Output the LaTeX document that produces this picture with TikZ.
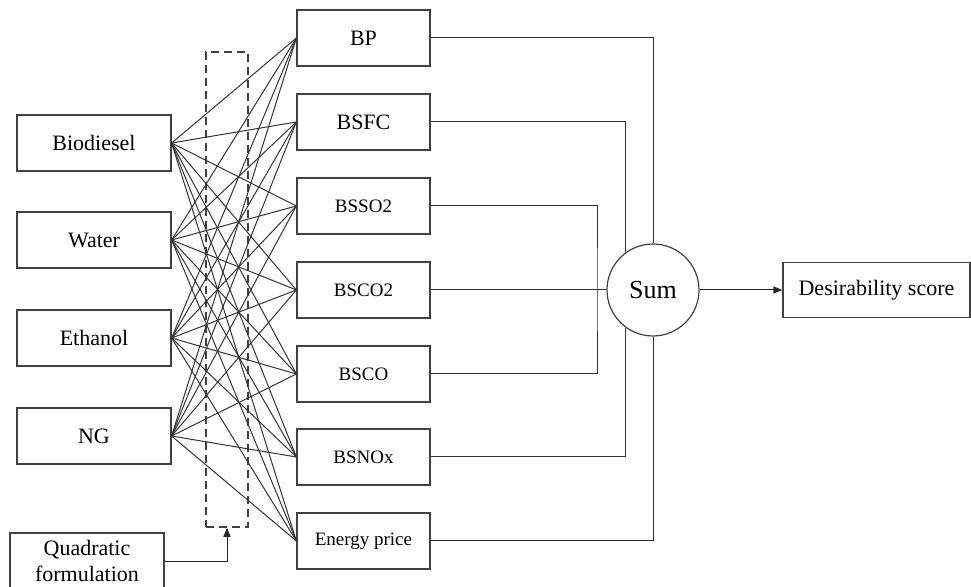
\documentclass[tikz,border=0pt]{standalone}
\usepackage{fontspec}
\setmainfont{Liberation Serif}
\usetikzlibrary{arrows.meta, positioning, calc}

\begin{document}
\begin{tikzpicture}[
    x=0.5pt, y=-0.5pt,
    inbox/.style={draw=black!75,line width=0.6pt,minimum width=77pt,minimum height=28pt,
                  align=center,font=\fontsize{11}{13}\selectfont},
    outbox/.style={draw=black!75,line width=0.6pt,minimum width=66.5pt,minimum height=28pt,
                   font=\fontsize{11}{13}\selectfont},
    small/.style={font=\fontsize{9.5}{11}\selectfont},
    wire/.style={black!80,line width=0.5pt},
    arr/.style={-{Triangle[length=4.5pt,width=3.5pt]},black!85,line width=0.5pt}
]
  \useasboundingbox (0,0) rectangle (971,587);

  % Mixture inputs
  \node[inbox] (bio) at (94,143) {Biodiesel};
  \node[inbox] (wat) at (94,240) {Water};
  \node[inbox] (eth) at (94,338) {Ethanol};
  \node[inbox] (ng)  at (94,436) {NG};

  % Responses
  \node[outbox] (bp)    at (363.5,38)  {BP};
  \node[outbox] (bsfc)  at (363.5,122) {BSFC};
  \node[outbox,small] (bsso2) at (363.5,206) {BSSO2};
  \node[outbox,small] (bsco2) at (363.5,290) {BSCO2};
  \node[outbox,small] (bsco)  at (363.5,374) {BSCO};
  \node[outbox,small] (bsnox) at (363.5,457) {BSNOx};
  \node[outbox,small] (price) at (363.5,541) {Energy price};

  % Regression model (dashed group) and its input
  \node[draw=black!75,line width=0.8pt,dash pattern=on 4pt off 2.5pt,
        minimum width=21pt,minimum height=237.5pt] (model) at (227,289.5) {};
  \node[inbox,minimum height=35pt,text depth=7pt] (quad) at (87,568) {Quadratic\\formulation};

  % Sum and output
  \node[draw=black!75,line width=0.6pt,circle,minimum size=46pt,inner sep=0pt,
        font=\fontsize{13}{15}\selectfont] (sum) at (653,290) {Sum};
  \node[inbox,minimum width=93.5pt,minimum height=27.5pt] (score) at (876.5,290) {Desirability score};

  % Fully connected wiring
  \foreach \i in {bio,wat,eth,ng}
    \foreach \o in {bp,bsfc,bsso2,bsco2,bsco,bsnox,price}
      \draw[wire] (\i.east) -- (\o.west);

  \draw[arr] ([yshift=3pt]quad.east) -| (model.south);

  % Collecting lines into the sum
  \coordinate (join) at (597,290);
  \draw[wire] (bp.east) -| (sum.north);
  \draw[wire] (bsfc.east) -| (sum.126);
  \draw[wire] (bsso2.east) -| (join) |- (bsco.east);
  \draw[wire] (bsco2.east) -- (sum.west);
  \draw[wire] (bsnox.east) -| (sum.234);
  \draw[wire] (price.east) -| (sum.south);

  \draw[arr] (sum.east) -- (score.west);
\end{tikzpicture}
\end{document}
